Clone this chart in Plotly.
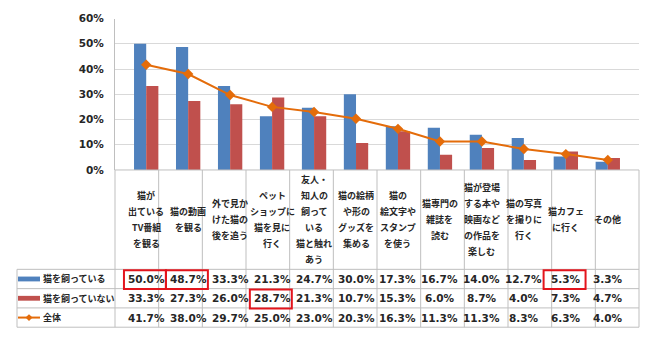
import plotly.graph_objects as go

W, H = 650, 339

category_lines = [
    ["猫が", "出ている", "TV番組", "を観る"],
    ["猫の動画", "を観る"],
    ["外で見か", "けた猫の", "後を追う"],
    ["ペット", "ショップに", "猫を見に", "行く"],
    ["友人・", "知人の", "飼って", "いる", "猫と触れ", "あう"],
    ["猫の絵柄", "や形の", "グッズを", "集める"],
    ["猫の", "絵文字や", "スタンプ", "を使う"],
    ["猫専門の", "雑誌を", "読む"],
    ["猫が登場", "する本や", "映画など", "の作品を", "楽しむ"],
    ["猫の写真", "を撮りに", "行く"],
    ["猫カフェ", "に行く"],
    ["その他"],
]
categories = ["".join(l) for l in category_lines]

series_names = ["猫を飼っている", "猫を飼っていない", "全体"]
owners = [50.0, 48.7, 33.3, 21.3, 24.7, 30.0, 17.3, 16.7, 14.0, 12.7, 5.3, 3.3]
non_owners = [33.3, 27.3, 26.0, 28.7, 21.3, 10.7, 15.3, 6.0, 8.7, 4.0, 7.3, 4.7]
total = [41.7, 38.0, 29.7, 25.0, 23.0, 20.3, 16.3, 11.3, 11.3, 8.3, 6.3, 4.0]
# (row, column) cells boxed in red
highlights = [(0, 0), (0, 1), (1, 3), (0, 10)]

colors = ["#4F81BD", "#C0504D", "#E46C0A"]
JP = "Noto Sans CJK JP"
NUM = "DejaVu Sans, Noto Sans CJK JP"
TXT = "#262626"
GRID = "#d9d9d9"
BORDER = "#bfbfbf"

X0, X1 = 115, 639
Y_TOP, Y_AX = 13, 170
ROW_Y = [273, 293, 313, 333]


def px(x):
    return x / W


def py(y):
    return 1 - y / H


fig = go.Figure()
fig.add_trace(go.Bar(x=categories, y=[v / 100 for v in owners], name=series_names[0],
                     marker=dict(color=colors[0], line=dict(width=0))))
fig.add_trace(go.Bar(x=categories, y=[v / 100 for v in non_owners], name=series_names[1],
                     marker=dict(color=colors[1], line=dict(width=0))))
fig.add_trace(go.Scatter(x=categories, y=[v / 100 for v in total], name=series_names[2],
                         mode="lines+markers",
                         line=dict(color=colors[2], width=2),
                         marker=dict(symbol="diamond", size=8, color=colors[2])))

shapes = []
annotations = []
n = len(categories)

# table grid lines
for k in range(n + 1):
    xv = X0 + k * (X1 - X0) / n
    shapes.append(dict(type="line", xref="paper", yref="paper",
                       x0=px(xv), x1=px(xv), y0=py(Y_AX), y1=py(ROW_Y[-1]),
                       line=dict(color=BORDER, width=1)))
shapes.append(dict(type="line", xref="paper", yref="paper",
                   x0=px(17), x1=px(17), y0=py(ROW_Y[0]), y1=py(ROW_Y[-1]),
                   line=dict(color=BORDER, width=1)))
for yv in ROW_Y:
    shapes.append(dict(type="line", xref="paper", yref="paper",
                       x0=px(17), x1=px(X1), y0=py(yv), y1=py(yv),
                       line=dict(color=BORDER, width=1)))
shapes.append(dict(type="line", xref="paper", yref="paper",
                   x0=px(X0), x1=px(X1), y0=py(Y_AX), y1=py(Y_AX),
                   line=dict(color=BORDER, width=1)))

# category labels
LINE_H = 16.7
mid = (Y_AX + ROW_Y[0]) / 2
for i, lines in enumerate(category_lines):
    m = len(lines)
    for j, t in enumerate(lines):
        yc = mid + (j - (m - 1) / 2) * LINE_H
        annotations.append(dict(x=i, xref="x", y=py(yc), yref="paper", text=t,
                                showarrow=False, xanchor="center", yanchor="middle",
                                font=dict(family=JP, size=9, color=TXT, weight="bold")))

# values
rows = [owners, non_owners, total]
for r, vals in enumerate(rows):
    yc = (ROW_Y[r] + ROW_Y[r + 1]) / 2
    for i, v in enumerate(vals):
        annotations.append(dict(x=i, xref="x", y=py(yc), yref="paper", text=f"{v:.1f}%",
                                showarrow=False, xanchor="center", yanchor="middle",
                                font=dict(family=NUM, size=10.5, color=TXT, weight="bold")))
    # legend key
    if r < 2:
        shapes.append(dict(type="rect", xref="paper", yref="paper",
                           x0=px(18), x1=px(40), y0=py(yc - 2.5), y1=py(yc + 2.5),
                           fillcolor=colors[r], line=dict(width=0)))
    else:
        shapes.append(dict(type="line", xref="paper", yref="paper",
                           x0=px(18), x1=px(40), y0=py(yc), y1=py(yc),
                           line=dict(color=colors[r], width=2)))
        cx, d = 29, 3.5
        path = (f"M {px(cx - d)},{py(yc)} L {px(cx)},{py(yc - d)} "
                f"L {px(cx + d)},{py(yc)} L {px(cx)},{py(yc + d)} Z")
        shapes.append(dict(type="path", xref="paper", yref="paper", path=path,
                           fillcolor=colors[r], line=dict(width=0)))
    annotations.append(dict(x=px(41), xref="paper", y=py(yc), yref="paper",
                            text=series_names[r], showarrow=False,
                            xanchor="left", yanchor="middle",
                            font=dict(family=JP, size=9, color=TXT, weight="bold")))

# red highlight boxes
for r, c in highlights:
    shapes.append(dict(type="rect", xref="x", yref="paper",
                       x0=c - 0.5 - 0.03, x1=c + 0.5 - 0.03,
                       y0=py(ROW_Y[r] + 1), y1=py(ROW_Y[r + 1] + 0.5),
                       fillcolor="rgba(0,0,0,0)", line=dict(color="#E3141C", width=2)))

fig.update_layout(
    width=W, height=H,
    margin=dict(l=0, r=0, t=0, b=0),
    paper_bgcolor="white", plot_bgcolor="white",
    barmode="group", bargap=0.42, bargroupgap=0,
    showlegend=False,
    shapes=shapes, annotations=annotations,
    xaxis=dict(domain=[px(X0), px(X1)], showticklabels=False, showgrid=False,
               zeroline=False, showline=False, ticks=""),
    yaxis=dict(domain=[py(Y_AX), py(Y_TOP)], range=[0, 0.6], dtick=0.1,
               tickformat=".0%", showgrid=True, gridcolor=GRID, gridwidth=1,
               zeroline=False, showline=True, linecolor=BORDER, linewidth=1,
               ticks="", ticklabelstandoff=8,
               tickfont=dict(family=NUM, size=10.5, color=TXT, weight="bold")),
)

fig.write_html("out.html")
